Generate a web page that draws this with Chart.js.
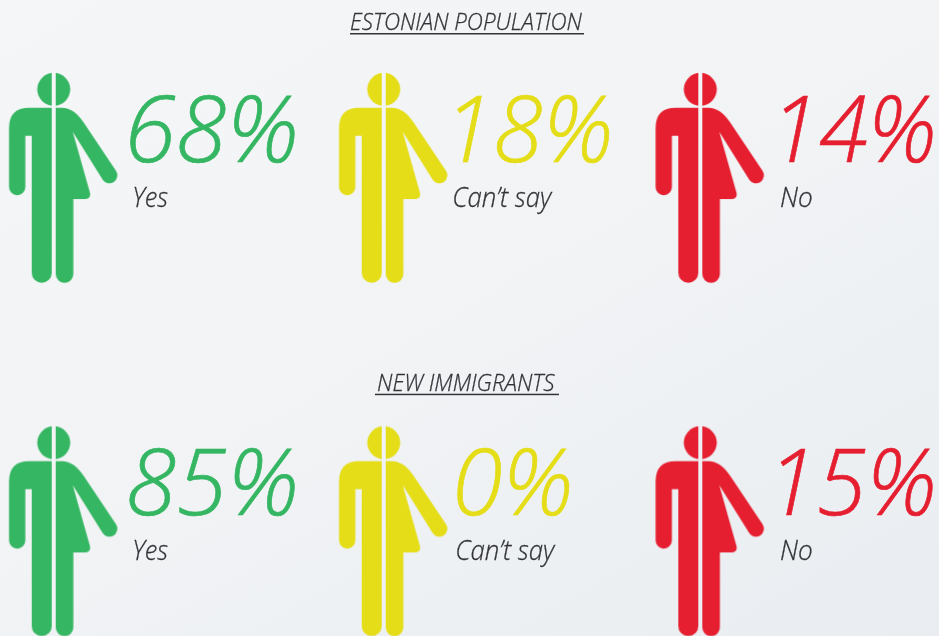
<!DOCTYPE html>
<html>
<head>
<meta charset="utf-8">
<style>
  html, body { margin: 0; height: 100%; overflow: hidden; background: linear-gradient(150deg, #f5f6f7 0%, #f1f3f5 50%, #e9edf1 100%); }
  #wrap { width: 939px; height: 636px; }
</style>
<script src="https://cdn.jsdelivr.net/npm/chart.js@4"></script>
</head>
<body>
<div id="wrap"><canvas id="chart" width="939" height="636"></canvas></div>
<script>
const groups = ["ESTONIAN POPULATION", "NEW IMMIGRANTS"];
const answers = ["Yes", "Can\u2019t say", "No"];
const estonian = [68, 18, 14];
const immigrants = [85, 0, 15];
const colours = ["#35b662", "#e4dd17", "#e51f30"];

// layout, in pixels from each figure
const columnNudge = [0, 6.7, 0];
const valueLeft = [[76.8, 73.3, 83.2], [75.8, 73.3, 80.2]];
const valueWidth = [[164, 152, 149], [165, 112, 152]];
const labelLeft = [[80.3, 70.3, 80.7], [80.3, 73.3, 80.7]];
const labelWidth = [[34, 99, 31], [34, 99, 31]];
const titleBase = [30, 390.7];
const titleSpan = [[351, 582], [378, 555]];
const lineSpan = [[350, 584], [375, 559]];
const textFont = "Open Sans";
const textColour = "#333438";

function makeFigure(colour) {
  let c = document.createElement("canvas");
  c.width = 140;
  c.height = 230;
  let g = c.getContext("2d");
  g.translate(70 - 53.7, 115 - 178);
  g.fillStyle = colour;
  g.beginPath();
  g.arc(53.7, 89.3, 16.5, 0, Math.PI * 2);
  g.fill();
  g.beginPath();
  g.moveTo(53.7, 107.7);
  g.lineTo(29, 107.7);
  g.quadraticCurveTo(9, 107.7, 9, 128);
  g.lineTo(9, 187);
  g.arc(17.15, 187, 8.15, Math.PI, 0, true);
  g.lineTo(25.3, 135.7);
  g.lineTo(31.7, 135.7);
  g.lineTo(31.7, 272.7);
  g.arc(41.7, 272.7, 10, Math.PI, 0, true);
  g.lineTo(55.7, 274);
  g.arc(64.5, 274, 8.8, Math.PI, 0, true);
  g.lineTo(73.3, 199);
  g.lineTo(86, 199);
  g.quadraticCurveTo(91, 198, 90, 193);
  g.lineTo(72.7, 131.7);
  g.lineTo(102.7, 179.8);
  g.arc(109.3, 175.3, 8, Math.atan2(0.56, -0.83), Math.atan2(-0.56, 0.83), true);
  g.lineTo(84, 123);
  g.quadraticCurveTo(74, 107.7, 62, 107.7);
  g.closePath();
  g.fill();
  g.globalCompositeOperation = "destination-out";
  g.fillRect(51.7, 0, 4, 400);
  return c;
}

function fitText(ctx, text, left, base, width, thicken) {
  let m = ctx.measureText(text);
  let ink = m.actualBoundingBoxLeft + m.actualBoundingBoxRight;
  let sx = width / ink;
  ctx.save();
  ctx.translate(left, base);
  ctx.scale(sx, 1);
  ctx.fillText(text, m.actualBoundingBoxLeft, 0);
  if (thicken) {
    ctx.strokeStyle = ctx.fillStyle;
    ctx.lineWidth = thicken;
    ctx.strokeText(text, m.actualBoundingBoxLeft, 0);
  }
  ctx.restore();
}

const textPlugin = {
  id: "pictogramText",
  afterDatasetsDraw(chart) {
    let ctx = chart.ctx;
    ctx.save();
    ctx.textAlign = "left";
    ctx.textBaseline = "alphabetic";
    chart.data.datasets.forEach((ds, r) => {
      let meta = chart.getDatasetMeta(r);
      meta.data.forEach((pt, i) => {
        ctx.fillStyle = colours[i];
        ctx.font = "italic 300 92px '" + textFont + "'";
        fitText(ctx, ds.values[i] + "%", pt.x + valueLeft[r][i], pt.y - 16, valueWidth[r][i], 0.7);
        ctx.fillStyle = textColour;
        ctx.font = "italic 300 28px '" + textFont + "'";
        fitText(ctx, answers[i], pt.x + labelLeft[r][i], pt.y + 29, labelWidth[r][i], 0.3);
      });
      ctx.fillStyle = textColour;
      ctx.font = "italic 300 23px '" + textFont + "'";
      fitText(ctx, groups[r], titleSpan[r][0], titleBase[r], titleSpan[r][1] - titleSpan[r][0], 0.3);
      ctx.fillRect(lineSpan[r][0], titleBase[r] + 3, lineSpan[r][1] - lineSpan[r][0], 1.5);
    });
    ctx.restore();
  }
};

function rowData(row) {
  return answers.map((a, i) => ({ x: i, y: row }));
}

const figures = colours.map(makeFigure);

function init() {
  let ctx = document.getElementById("chart").getContext("2d");
  const figureFor = (c) => figures[c.dataIndex];
  new Chart(ctx, {
    type: "scatter",
    data: {
      datasets: [
        { label: groups[0], data: rowData(0), values: estonian, pointStyle: figureFor, clip: false },
        { label: groups[1], data: rowData(1), values: immigrants, pointStyle: figureFor, clip: false }
      ]
    },
    options: {
      responsive: false,
      animation: false,
      layout: { padding: 0, autoPadding: false },
      plugins: { legend: { display: false }, tooltip: { enabled: false } },
      scales: {
        x: { type: "linear", display: false, min: -0.1661, max: 2.7383 },
        y: { type: "linear", display: false, reverse: true, min: -0.5037, max: 1.2959 }
      }
    },
    plugins: [{
      id: "columnNudge",
      afterDatasetsUpdate(chart) {
        chart.data.datasets.forEach((ds, r) => {
          chart.getDatasetMeta(r).data.forEach((pt, i) => { pt.x += columnNudge[i]; });
        });
      }
    }, textPlugin]
  });
}

window.onload = init;
</script>
</body>
</html>
